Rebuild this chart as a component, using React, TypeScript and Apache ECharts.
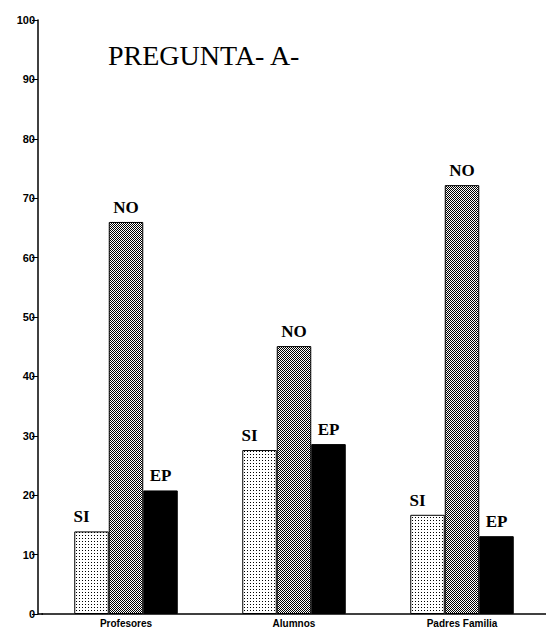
import React, { useEffect, useRef } from "react";
import * as echarts from "echarts";

const categories = ["Profesores", "Alumnos", "Padres Familia"];
const seriesNames = ["SI", "NO", "EP"];
const siValues = [13.9, 27.6, 16.7];
const noValues = [66.0, 45.1, 72.2];
const epValues = [20.8, 28.6, 13.1];
const titleText = "PREGUNTA- A-";

function makePattern(kind: "dots" | "checker"): HTMLCanvasElement {
  const c = document.createElement("canvas");
  const size = kind === "dots" ? 3 : 2;
  c.width = size;
  c.height = size;
  const ctx = c.getContext("2d")!;
  ctx.fillStyle = "#ffffff";
  ctx.fillRect(0, 0, size, size);
  ctx.fillStyle = "#000000";
  if (kind === "dots") {
    ctx.fillRect(1, 1, 1, 1);
  } else {
    ctx.fillRect(0, 0, 1, 1);
    ctx.fillRect(1, 1, 1, 1);
  }
  return c;
}

export default function App() {
  const ref = useRef<HTMLDivElement>(null);
  useEffect(() => {
    if (!ref.current) return;
    const chart = echarts.init(ref.current, undefined, { renderer: "svg" });
    const dots = makePattern("dots");
    const checker = makePattern("checker");
    const fills: any[] = [
      { image: dots.toDataURL(), repeat: "repeat", imageWidth: 3, imageHeight: 3 },
      { image: checker.toDataURL(), repeat: "repeat", imageWidth: 2, imageHeight: 2 },
      "#000000",
    ];
    const data = [siValues, noValues, epValues];
    const labelOffsets = [[-10, 0], [0, 0], [0, 0]];
    const gridLeft = 42;
    const gridBottom = 16;
    const H = 630;
    chart.setOption({
      animation: false,
      backgroundColor: "#ffffff",
      title: {
        text: titleText,
        left: 103,
        top: 36,
        textStyle: {
          fontFamily: "Liberation Serif",
          fontWeight: "normal",
          fontSize: 28,
          color: "#000",
        },
      },
      graphic: [
        {
          type: "line",
          shape: { x1: 38, y1: H - gridBottom, x2: gridLeft + 1, y2: H - gridBottom },
          style: { stroke: "#000", lineWidth: 1.5 },
        },
      ],
      grid: { left: gridLeft, right: -6, top: 20, bottom: gridBottom, containLabel: false },
      xAxis: {
        type: "category",
        data: categories,
        axisLine: { lineStyle: { color: "#000", width: 1.5 } },
        axisTick: { show: false },
        axisLabel: {
          color: "#000",
          fontFamily: "Liberation Sans",
          fontWeight: "bold",
          fontSize: 10,
          margin: 4,
        },
      },
      yAxis: {
        type: "value",
        min: 0,
        max: 100,
        interval: 10,
        offset: 4,
        splitLine: { show: false },
        axisLine: { show: true, lineStyle: { color: "#000", width: 1.5 } },
        axisTick: { show: true, length: 6, lineStyle: { color: "#000" } },
        axisLabel: {
          color: "#000",
          fontFamily: "Liberation Sans",
          fontWeight: "bold",
          fontSize: 11,
          margin: 3,
        },
      },
      series: seriesNames.map((name, i) => ({
        name,
        type: "bar",
        data: data[i],
        barWidth: 34.5,
        barGap: "0%",
        itemStyle: { color: fills[i], borderColor: "#000", borderWidth: 1 },
        label: {
          show: true,
          position: "top",
          distance: 6,
          offset: labelOffsets[i],
          formatter: name,
          fontFamily: "Liberation Serif",
          fontWeight: "bold",
          fontSize: 17,
          color: "#000",
        },
      })),
    });
    return () => chart.dispose();
  }, []);
  return (
    <div
      ref={ref}
      style={{ position: "fixed", left: 0, top: 0, width: 546, height: 630, background: "#fff" }}
    />
  );
}
